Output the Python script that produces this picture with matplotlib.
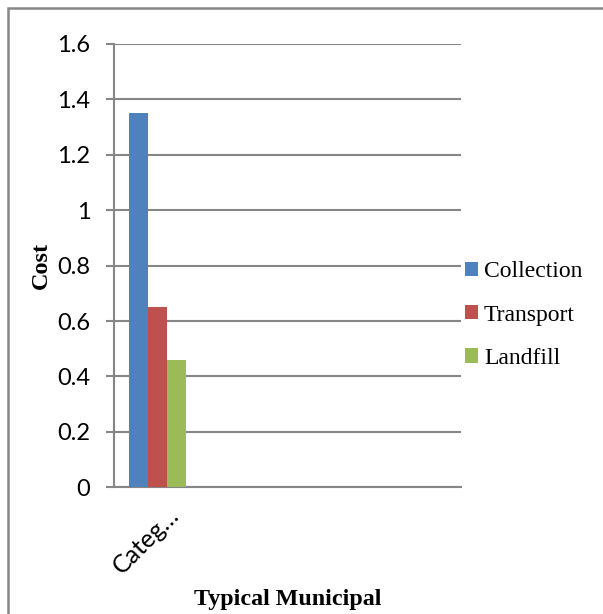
import numpy as np
import matplotlib.pyplot as plt
from matplotlib.patches import Rectangle
from matplotlib.transforms import ScaledTranslation

categories = ['Categ…', '', '', '']
series = ['Collection', 'Transport', 'Landfill']
collection = [1.35, 0, 0, 0]
transport = [0.65, 0, 0, 0]
landfill = [0.46, 0, 0, 0]
colors = ['#4F81BD', '#C0504D', '#9BBB59']
yticks = [0, 0.2, 0.4, 0.6, 0.8, 1, 1.2, 1.4, 1.6]
ytick_labels = ['0', '0.2', '0.4', '0.6', '0.8', '1', '1.2', '1.4', '1.6']

grid_col = '#868686'

fig = plt.figure(figsize=(6.03, 6.14), dpi=100)
ax = fig.add_axes([114 / 603, 1 - 487.3 / 614, 347 / 603, 443.3 / 614])

x = np.arange(len(categories))
w = 0.22
for i, (vals, name) in enumerate(zip([collection, transport, landfill], series)):
    ax.bar(x + (i - 1) * w, vals, width=w, color=colors[i], label=name, zorder=3)

ax.set_xlim(-0.5, len(categories) - 0.5)
ax.set_ylim(0, 1.6)
ax.set_yticks(yticks)
ax.set_yticklabels(ytick_labels, family='Lato', fontsize=17)
ax.yaxis.grid(True, color=grid_col, linewidth=1.5, zorder=0)
ax.tick_params(axis='y', length=6, width=1.5, color=grid_col, pad=11)

ax.set_xticks(x)
ax.set_xticklabels(categories, family='Lato', fontsize=18, rotation=45,
                   ha='right', va='center', rotation_mode='anchor')
ax.tick_params(axis='x', length=0, pad=17)
for lbl in ax.get_xticklabels():
    lbl.set_transform(lbl.get_transform() + ScaledTranslation(0.18, 0, fig.dpi_scale_trans))

for side in ['top', 'right']:
    ax.spines[side].set_visible(False)
for side in ['left', 'bottom']:
    ax.spines[side].set_color(grid_col)
    ax.spines[side].set_linewidth(1.5)

ax.set_ylabel('Cost', family='Liberation Serif', fontweight='bold', fontsize=17.5)
ax.yaxis.set_label_coords(-0.178, 0.5)
ax.set_xlabel('Typical Municipal', family='Liberation Serif', fontweight='bold', fontsize=17.3)
ax.xaxis.set_label_coords(0.5, -0.23)

ax.legend(loc='center left', bbox_to_anchor=(465 / 603, 1 - 315 / 614),
          bbox_transform=fig.transFigure, frameon=False, borderpad=0,
          borderaxespad=0, handlelength=0.55, handleheight=0.55,
          handletextpad=0.25, labelspacing=0.95,
          prop={'family': 'Liberation Serif', 'size': 17})

# outer chart border
fig.patches.append(Rectangle((7.5 / 603, -0.1), 1.2, 1 - 7.5 / 614 + 0.1,
                             transform=fig.transFigure, fill=False,
                             edgecolor='#878787', linewidth=1.8))

fig.savefig('out.png', dpi=100)
